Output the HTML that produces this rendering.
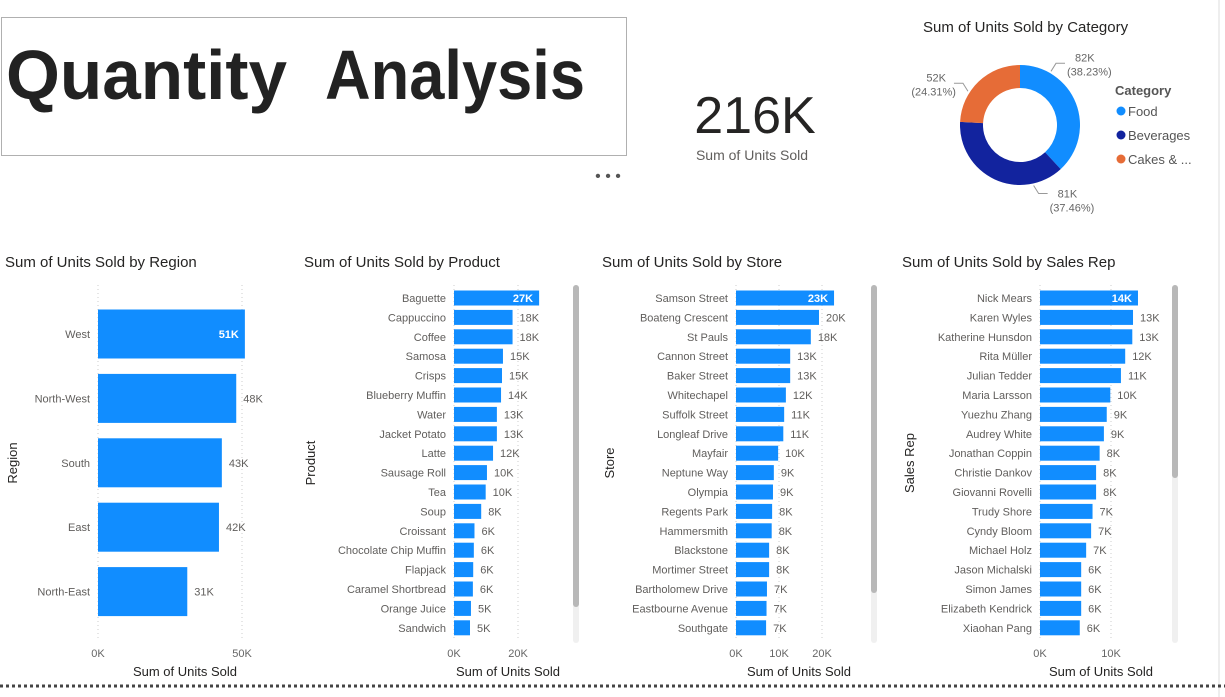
<!DOCTYPE html>
<html><head><meta charset="utf-8"><style>
body{margin:0;width:1225px;height:697px;background:#fff;overflow:hidden;font-family:"Liberation Sans",sans-serif}
svg{display:block}
</style></head><body>
<svg id="s" width="1225" height="697" xmlns="http://www.w3.org/2000/svg" font-family="Liberation Sans, sans-serif">
<rect x="1.5" y="17.5" width="625" height="138" fill="#fff" stroke="#b0b0b0"/>
<g>
<text x="6" y="99" font-size="70" font-weight="bold" fill="#222" textLength="281" lengthAdjust="spacingAndGlyphs">Quantity</text>
<text x="325" y="99" font-size="70" font-weight="bold" fill="#222" textLength="260" lengthAdjust="spacingAndGlyphs">Analysis</text>
</g>
<text x="608" y="181" font-size="16" fill="#555" text-anchor="middle">• • •</text>
<text x="755" y="133" font-size="52" fill="#252423" text-anchor="middle">216K</text>
<text x="752" y="160" font-size="14" fill="#605e5c" text-anchor="middle">Sum of Units Sold</text>
<text x="923" y="32" font-size="15" fill="#252423">Sum of Units Sold by Category</text>
<g id="donut"></g>
<text x="1115" y="95" font-size="13" font-weight="bold" fill="#555">Category</text>
<g id="legend"></g>
<line x1="1219" y1="0" x2="1219" y2="697" stroke="#ddd"/>
<line x1="0" y1="686" x2="1225" y2="686" stroke="#444" stroke-width="3" stroke-dasharray="3,3"/>
<g id="charts"></g>
</svg>
<script>
const catNames=["Food","Beverages","Cakes & ..."];
const catValues=[82,81,52];
const catPct=["38.23%","37.46%","24.31%"];
const catColors=["#118dff","#12239e","#e66c37"];

const regionCats=["West","North-West","South","East","North-East"];
const regionVals=[51,48,43,42,31];
const regionLabels=["51K","48K","43K","42K","31K"];
const regionTicks=[0,50];

const productCats=["Baguette","Cappuccino","Coffee","Samosa","Crisps","Blueberry Muffin","Water","Jacket Potato","Latte","Sausage Roll","Tea","Soup","Croissant","Chocolate Chip Muffin","Flapjack","Caramel Shortbread","Orange Juice","Sandwich"];
const productVals=[26.6,18.3,18.3,15.3,15,14.7,13.4,13.4,12.2,10.3,9.9,8.5,6.4,6.2,6,5.9,5.3,5];
const productLabels=["27K","18K","18K","15K","15K","14K","13K","13K","12K","10K","10K","8K","6K","6K","6K","6K","5K","5K"];
const productTicks=[0,20];

const storeCats=["Samson Street","Boateng Crescent","St Pauls","Cannon Street","Baker Street","Whitechapel","Suffolk Street","Longleaf Drive","Mayfair","Neptune Way","Olympia","Regents Park","Hammersmith","Blackstone","Mortimer Street","Bartholomew Drive","Eastbourne Avenue","Southgate"];
const storeVals=[22.8,19.3,17.4,12.6,12.6,11.6,11.2,11,9.8,8.8,8.6,8.4,8.3,7.7,7.7,7.2,7.1,7.0];
const storeLabels=["23K","20K","18K","13K","13K","12K","11K","11K","10K","9K","9K","8K","8K","8K","8K","7K","7K","7K"];
const storeTicks=[0,10,20];

const repCats=["Nick Mears","Karen Wyles","Katherine Hunsdon","Rita Müller","Julian Tedder","Maria Larsson","Yuezhu Zhang","Audrey White","Jonathan Coppin","Christie Dankov","Giovanni Rovelli","Trudy Shore","Cyndy Bloom","Michael Holz","Jason Michalski","Simon James","Elizabeth Kendrick","Xiaohan Pang"];
const repVals=[13.8,13.1,13.0,12.0,11.4,9.9,9.4,9.0,8.4,7.9,7.9,7.4,7.2,6.5,5.8,5.8,5.8,5.6];
const repLabels=["14K","13K","13K","12K","11K","10K","9K","9K","8K","8K","8K","7K","7K","7K","6K","6K","6K","6K"];
const repTicks=[0,10];

const NS="http://www.w3.org/2000/svg";
function mk(tag,at,parent,txt){const e=document.createElementNS(NS,tag);for(const k in at)e.setAttribute(k,at[k]);if(txt!=null)e.textContent=txt;parent.appendChild(e);return e;}

// donut
(function(){
const g=document.getElementById('donut');const cx=1020,cy=125,R=60,r=37;
const total=catValues.reduce((a,b)=>a+b,0);let a0=-Math.PI/2;
catValues.forEach((v,i)=>{const a1=a0+v/total*2*Math.PI;const lg=(a1-a0)>Math.PI?1:0;
const p=(a,rad)=>[cx+rad*Math.cos(a),cy+rad*Math.sin(a)];
const [x1,y1]=p(a0,R),[x2,y2]=p(a1,R),[x3,y3]=p(a1,r),[x4,y4]=p(a0,r);
const s=mk('path',{d:`M${x1},${y1}A${R},${R} 0 ${lg} 1 ${x2},${y2}L${x3},${y3}A${r},${r} 0 ${lg} 0 ${x4},${y4}Z`,fill:catColors[i]},g);


const am=a0+Math.min(Math.PI/6,(a1-a0)/2);const [lx,ly]=p(am,R+2);const right=Math.cos(am)>=0;
const up=Math.sin(am)<0;
const ty=ly+(up?-8:8);const ex=right?lx+14:lx-14;
mk('polyline',{points:`${lx},${ly} ${lx+(right?5:-5)},${ty} ${ex},${ty}`,fill:'none',stroke:'#999'},g);
const tx=right?ex+2:ex-2;
const t1=mk('text',{x:tx+(right?8:-6),y:up?ty-2:ty+4,'font-size':11,fill:'#666','text-anchor':right?'start':'end'},g,v+'K');


mk('text',{x:tx+(right?0:4),y:(up?ty-2:ty+4)+14,'font-size':11,fill:'#666','text-anchor':right?'start':'end'},g,'('+catPct[i]+')');
a0=a1;});
const lg=document.getElementById('legend');
catNames.forEach((n,i)=>{const y=112+i*24;
const c=mk('circle',{cx:1121,cy:y-1,r:4.5,fill:catColors[i]},lg);


const t=mk('text',{x:1128,y:y+4,'font-size':13,fill:'#555'},lg,n);

});
})();

function bar(cfg){
const g=mk('g',{},document.getElementById('charts'));


const xs=v=>cfg.x0+v*cfg.ppk;
const tt=mk('text',{x:cfg.tx,y:267,'font-size':15,fill:'#252423'},g,cfg.title);


cfg.ticks.forEach(t=>{mk('line',{x1:xs(t),y1:cfg.gy0,x2:xs(t),y2:cfg.gy1,stroke:'#ccc','stroke-dasharray':'1,3'},g);
const l=mk('text',{x:xs(t),y:657,'font-size':11,fill:'#666','text-anchor':'middle'},g,t+'K');

});
cfg.cats.forEach((c,i)=>{const cy=cfg.y0+i*cfg.step;const w=xs(cfg.vals[i])-cfg.x0;
const b=mk('rect',{x:cfg.x0,y:cy-cfg.bh/2,width:w,height:cfg.bh,fill:'#118dff'},g);


const cl=mk('text',{x:cfg.x0-8,y:cy+4,'font-size':cfg.fs,fill:'#605e5c','text-anchor':'end'},g,c);


const inside=i===0;
const vl=mk('text',{x:inside?xs(cfg.vals[i])-6:xs(cfg.vals[i])+7,y:cy+4,'font-size':cfg.fs,fill:inside?'#fff':'#605e5c','font-weight':inside?'bold':'normal','text-anchor':inside?'end':'start'},g,cfg.labels[i]);

});
const xa=mk('text',{x:cfg.xtx,y:676,'font-size':13,fill:'#252423','text-anchor':'middle'},g,'Sum of Units Sold');


const ya=mk('text',{x:0,y:0,'font-size':13,fill:'#252423','text-anchor':'middle',transform:`translate(${cfg.ytx},${cfg.yty}) rotate(-90)`},g,cfg.ytitle);


if(cfg.sb){mk('rect',{x:cfg.sb-3,y:285,width:6,height:358,rx:3,fill:'#f0f0f0'},g);
const th=mk('rect',{x:cfg.sb-3,y:285,width:6,height:cfg.sbh,rx:3,fill:'#b8b8b8'},g);

}
}
bar({name:'region-chart',title:'Sum of Units Sold by Region',tx:5,x0:98,ppk:2.88,ticks:regionTicks,cats:regionCats,vals:regionVals,labels:regionLabels,y0:334,step:64.4,bh:49,fs:11,gy0:285,gy1:640,xtx:185,ytitle:'Region',ytx:17,yty:463});
bar({name:'product-chart',title:'Sum of Units Sold by Product',tx:304,x0:454,ppk:3.2,ticks:productTicks,cats:productCats,vals:productVals,labels:productLabels,y0:298,step:19.4,bh:15,fs:11,gy0:285,gy1:640,xtx:508,ytitle:'Product',ytx:315,yty:463,sb:576,sbh:322});
bar({name:'store-chart',title:'Sum of Units Sold by Store',tx:602,x0:736,ppk:4.3,ticks:storeTicks,cats:storeCats,vals:storeVals,labels:storeLabels,y0:298,step:19.4,bh:15,fs:11,gy0:285,gy1:640,xtx:799,ytitle:'Store',ytx:614,yty:463,sb:874,sbh:308});
bar({name:'sales-rep-chart',title:'Sum of Units Sold by Sales Rep',tx:902,x0:1040,ppk:7.1,ticks:repTicks,cats:repCats,vals:repVals,labels:repLabels,y0:298,step:19.4,bh:15,fs:11,gy0:285,gy1:640,xtx:1101,ytitle:'Sales Rep',ytx:914,yty:463,sb:1175,sbh:193});
</script>
</body></html>
